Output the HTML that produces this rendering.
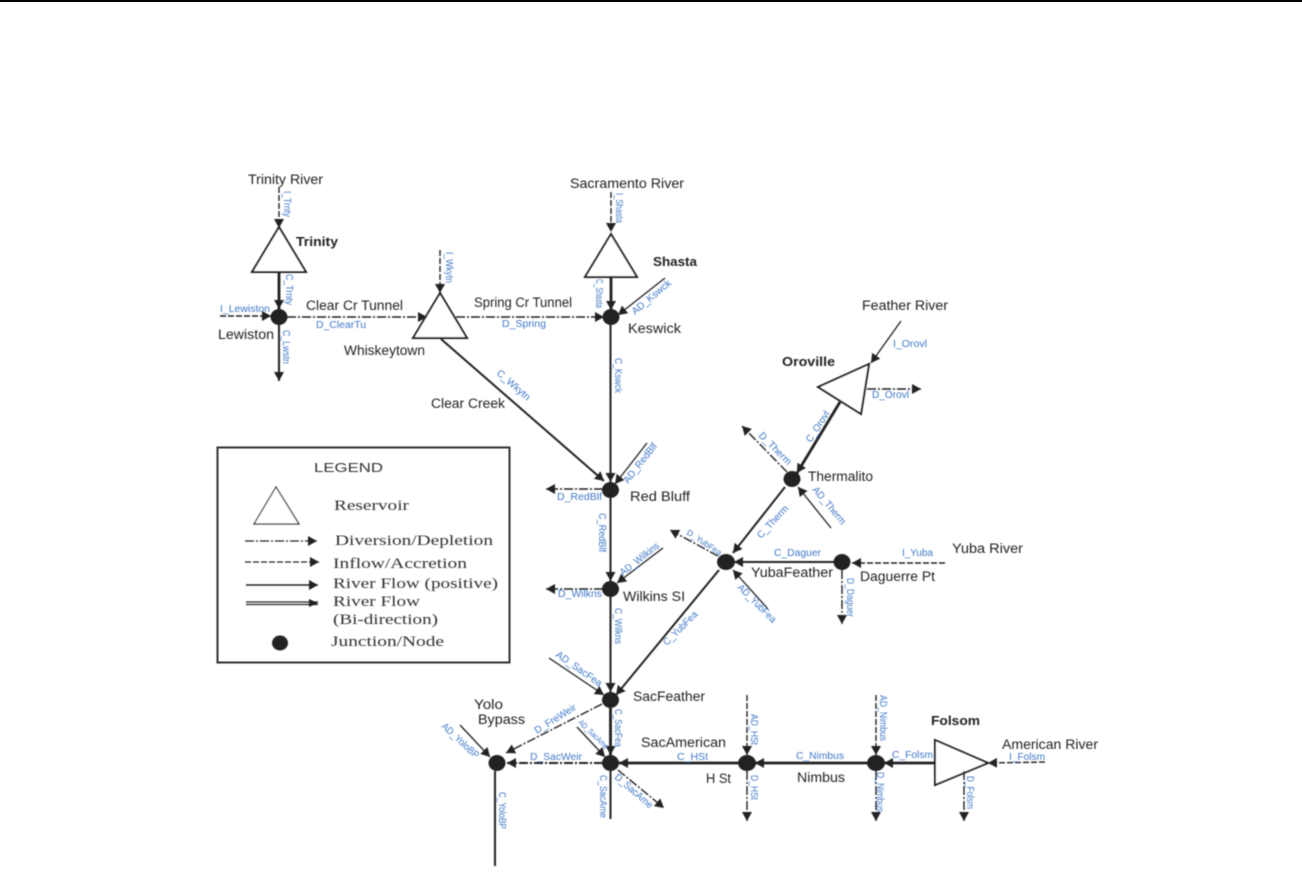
<!DOCTYPE html>
<html><head><meta charset="utf-8"><title>Sacramento River System Diagram</title>
<style>
html,body{margin:0;padding:0;background:#fff;width:1302px;height:896px;overflow:hidden}
svg{display:block}
text{font-family:"Liberation Sans",sans-serif;fill:#222;font-size:13.5px}
.b{font-weight:bold;font-size:13px}
.l{fill:#3f78c8;font-size:10px}
.s{font-family:"Liberation Serif",serif;font-size:15px;fill:#333}
.r,.rt,.i,.d{fill:none;stroke:#222}
.r{stroke-width:2}
.rt{stroke-width:2.8}
.i{stroke-width:1.4;stroke-dasharray:6 2}
.d{stroke-width:1.4;stroke-dasharray:9 2 2 2}
.t{fill:#fff;stroke:#222;stroke-width:2}
</style></head><body>
<svg width="1302" height="896" viewBox="0 0 1302 896" xmlns="http://www.w3.org/2000/svg">
<defs>
<filter id="bl" x="-5%" y="-5%" width="110%" height="110%"><feGaussianBlur stdDeviation="0.4"/></filter>
<marker id="a" markerUnits="userSpaceOnUse" markerWidth="12" markerHeight="12" refX="9" refY="5" orient="auto"><path d="M0 0L9 5L0 10Z" fill="#222"/></marker>
</defs>
<rect x="0" y="0" width="1302" height="2" fill="#000"/>
<g filter="url(#bl)">
<!-- reservoirs -->
<path class="t" d="M279 227L252 272H306Z"/>
<path class="t" d="M440 293L413 338H467Z"/>
<path class="t" d="M611 234L585 277H637Z"/>
<path class="t" d="M818 387L869 364L861 414Z"/>
<path class="t" d="M935 740L935 785L988 763Z"/>
<!-- inflow -->
<line class="i" x1="279" y1="187" x2="279" y2="228" marker-end="url(#a)"/>
<line class="i" x1="220" y1="316" x2="271" y2="316" marker-end="url(#a)"/>
<line class="i" x1="440" y1="250" x2="440" y2="293" marker-end="url(#a)"/>
<line class="i" x1="611" y1="192" x2="611" y2="232" marker-end="url(#a)"/>
<line class="r" style="stroke-width:1.3" x1="901" y1="321" x2="871" y2="363" marker-end="url(#a)"/>
<line class="i" x1="945" y1="563" x2="852" y2="563" marker-end="url(#a)"/>
<line class="i" x1="1045" y1="762" x2="988" y2="763" marker-end="url(#a)"/>
<line class="i" x1="747" y1="695" x2="747" y2="755" marker-end="url(#a)"/>
<line class="i" x1="876" y1="695" x2="876" y2="755" marker-end="url(#a)"/>
<line class="r" style="stroke-width:1.3" x1="665" y1="278" x2="618" y2="315" marker-end="url(#a)"/>
<line class="r" style="stroke-width:1.3" x1="647" y1="443" x2="615" y2="484" marker-end="url(#a)"/>
<line class="r" style="stroke-width:1.3" x1="663" y1="548" x2="617" y2="583" marker-end="url(#a)"/>
<line class="r" style="stroke-width:1.3" x1="831" y1="528" x2="798" y2="487" marker-end="url(#a)"/>
<line class="r" style="stroke-width:1.3" x1="768" y1="609" x2="733" y2="570" marker-end="url(#a)"/>
<line class="r" style="stroke-width:1.3" x1="549" y1="658" x2="604" y2="695" marker-end="url(#a)"/>
<line class="r" style="stroke-width:1.3" x1="577" y1="727" x2="605" y2="757" marker-end="url(#a)"/>
<line class="r" style="stroke-width:1.3" x1="460" y1="725" x2="490" y2="757" marker-end="url(#a)"/>
<!-- diversions -->
<line class="d" x1="287" y1="317" x2="427" y2="317" marker-end="url(#a)"/>
<line class="d" x1="456" y1="317" x2="604" y2="317" marker-end="url(#a)"/>
<line class="d" x1="867" y1="389" x2="921" y2="389" marker-end="url(#a)"/>
<line class="d" x1="787" y1="472" x2="742" y2="426" marker-end="url(#a)"/>
<line class="d" x1="603" y1="489" x2="546" y2="489" marker-end="url(#a)"/>
<line class="d" x1="603" y1="589" x2="546" y2="589" marker-end="url(#a)"/>
<line class="d" x1="718" y1="556" x2="670" y2="530" marker-end="url(#a)"/>
<line class="d" x1="842" y1="570" x2="842" y2="624" marker-end="url(#a)"/>
<line class="d" x1="602" y1="704" x2="506" y2="753" marker-end="url(#a)"/>
<line class="d" style="stroke-width:2" x1="603" y1="763" x2="507" y2="763" marker-end="url(#a)"/>
<line class="d" x1="618" y1="770" x2="664" y2="808" marker-end="url(#a)"/>
<line class="d" x1="747" y1="771" x2="747" y2="821" marker-end="url(#a)"/>
<line class="d" x1="876" y1="771" x2="876" y2="821" marker-end="url(#a)"/>
<line class="d" x1="964" y1="771" x2="964" y2="821" marker-end="url(#a)"/>
<!-- river flow -->
<line class="rt" x1="279" y1="272" x2="279" y2="309" marker-end="url(#a)"/>
<line class="r" x1="279" y1="325" x2="279" y2="381" marker-end="url(#a)"/>
<line class="rt" x1="611" y1="277" x2="611" y2="310" marker-end="url(#a)"/>
<line class="r" x1="610.5" y1="325" x2="610.5" y2="482" marker-end="url(#a)"/>
<line class="r" x1="441" y1="339" x2="604" y2="481" marker-end="url(#a)"/>
<line class="r" x1="610.5" y1="497" x2="610.5" y2="581" marker-end="url(#a)"/>
<line class="r" x1="610.5" y1="597" x2="610.5" y2="692" marker-end="url(#a)"/>
<line class="rt" x1="840" y1="402" x2="797" y2="473" marker-end="url(#a)"/>
<line class="r" x1="785" y1="487" x2="733" y2="553" marker-end="url(#a)"/>
<line class="r" x1="834" y1="562" x2="734" y2="562" marker-end="url(#a)"/>
<line class="r" x1="719" y1="570" x2="616" y2="695" marker-end="url(#a)"/>
<line class="rt" x1="610.5" y1="708" x2="610.5" y2="755" marker-end="url(#a)"/>
<line class="r" x1="610.5" y1="771" x2="610.5" y2="819"/>
<line class="r" x1="495" y1="771" x2="495" y2="866"/>
<line class="rt" x1="740" y1="763" x2="619" y2="763" marker-end="url(#a)"/>
<line class="rt" x1="868" y1="763" x2="755" y2="763" marker-end="url(#a)"/>
<line class="rt" x1="934" y1="763" x2="884" y2="763" marker-end="url(#a)"/>
<!-- nodes -->
<g fill="#222">
<ellipse cx="279" cy="317" rx="8.5" ry="8"/><ellipse cx="611" cy="317" rx="8.5" ry="8"/>
<ellipse cx="610.5" cy="490" rx="8.5" ry="8"/><ellipse cx="610.5" cy="589" rx="8.5" ry="8"/>
<ellipse cx="792" cy="479" rx="8.5" ry="8"/><ellipse cx="726" cy="562" rx="9" ry="8"/>
<ellipse cx="842" cy="562" rx="8.5" ry="8"/><ellipse cx="610.5" cy="700" rx="8.5" ry="8"/>
<ellipse cx="610.5" cy="763" rx="8.5" ry="8"/><ellipse cx="497" cy="763" rx="8.5" ry="8"/>
<ellipse cx="747" cy="763" rx="9" ry="8"/><ellipse cx="876" cy="763" rx="9" ry="8"/>
</g>
<!-- names -->
<text lengthAdjust="spacingAndGlyphs" x="248" y="184" textLength="75">Trinity River</text>
<text lengthAdjust="spacingAndGlyphs" class="b" x="296" y="246" textLength="42">Trinity</text>
<text lengthAdjust="spacingAndGlyphs" x="306" y="310" textLength="97">Clear Cr Tunnel</text>
<text lengthAdjust="spacingAndGlyphs" x="218" y="339" textLength="56">Lewiston</text>
<text lengthAdjust="spacingAndGlyphs" x="344" y="355" textLength="81">Whiskeytown</text>
<text lengthAdjust="spacingAndGlyphs" x="474" y="307" textLength="98">Spring Cr Tunnel</text>
<text lengthAdjust="spacingAndGlyphs" x="431" y="408" textLength="74">Clear Creek</text>
<text lengthAdjust="spacingAndGlyphs" x="570" y="188" textLength="114">Sacramento River</text>
<text lengthAdjust="spacingAndGlyphs" class="b" x="653" y="266" textLength="44">Shasta</text>
<text lengthAdjust="spacingAndGlyphs" x="628" y="333" textLength="53">Keswick</text>
<text lengthAdjust="spacingAndGlyphs" x="862" y="310" textLength="86">Feather River</text>
<text lengthAdjust="spacingAndGlyphs" class="b" x="782" y="366" textLength="53">Oroville</text>
<text lengthAdjust="spacingAndGlyphs" x="808" y="481" textLength="65">Thermalito</text>
<text lengthAdjust="spacingAndGlyphs" x="630" y="501" textLength="60">Red Bluff</text>
<text lengthAdjust="spacingAndGlyphs" x="623" y="601" textLength="62">Wilkins SI</text>
<text lengthAdjust="spacingAndGlyphs" x="751" y="577" textLength="82">YubaFeather</text>
<text lengthAdjust="spacingAndGlyphs" x="860" y="581" textLength="75">Daguerre Pt</text>
<text lengthAdjust="spacingAndGlyphs" x="952" y="553" textLength="71">Yuba River</text>
<text lengthAdjust="spacingAndGlyphs" x="633" y="701" textLength="72">SacFeather</text>
<text lengthAdjust="spacingAndGlyphs" x="474" y="709" textLength="29">Yolo</text>
<text lengthAdjust="spacingAndGlyphs" x="478" y="724" textLength="47">Bypass</text>
<text lengthAdjust="spacingAndGlyphs" x="641" y="747" textLength="85">SacAmerican</text>
<text lengthAdjust="spacingAndGlyphs" x="706" y="783" textLength="25">H St</text>
<text lengthAdjust="spacingAndGlyphs" x="797" y="782" textLength="48">Nimbus</text>
<text lengthAdjust="spacingAndGlyphs" class="b" x="931" y="725" textLength="49">Folsom</text>
<text lengthAdjust="spacingAndGlyphs" x="1002" y="749" textLength="96">American River</text>
<!-- horizontal labels -->
<text lengthAdjust="spacingAndGlyphs" class="l" x="220" y="312" textLength="50">I_Lewiston</text>
<text lengthAdjust="spacingAndGlyphs" class="l" x="316" y="328" textLength="50">D_ClearTu</text>
<text lengthAdjust="spacingAndGlyphs" class="l" x="502" y="327" textLength="44">D_Spring</text>
<text lengthAdjust="spacingAndGlyphs" class="l" x="893" y="347" textLength="34">I_Orovl</text>
<text lengthAdjust="spacingAndGlyphs" class="l" x="872" y="398" textLength="37">D_Orovl</text>
<text lengthAdjust="spacingAndGlyphs" class="l" x="557" y="500" textLength="45">D_RedBlf</text>
<text lengthAdjust="spacingAndGlyphs" class="l" x="558" y="597" textLength="44">D_Wilkns</text>
<text lengthAdjust="spacingAndGlyphs" class="l" x="774" y="556" textLength="47">C_Daguer</text>
<text lengthAdjust="spacingAndGlyphs" class="l" x="902" y="556" textLength="31">I_Yuba</text>
<text lengthAdjust="spacingAndGlyphs" class="l" x="530" y="760" textLength="52">D_SacWeir</text>
<text lengthAdjust="spacingAndGlyphs" class="l" x="677" y="760" textLength="31">C_HSt</text>
<text lengthAdjust="spacingAndGlyphs" class="l" x="796" y="759" textLength="48">C_Nimbus</text>
<text lengthAdjust="spacingAndGlyphs" class="l" x="892" y="758" textLength="41">C_Folsm</text>
<text lengthAdjust="spacingAndGlyphs" class="l" x="1009" y="760" textLength="36">I_Folsm</text>
<!-- vertical labels -->
<text lengthAdjust="spacingAndGlyphs" class="l" transform="translate(284,191) rotate(90)" textLength="26">I_Trnty</text>
<text lengthAdjust="spacingAndGlyphs" class="l" transform="translate(286,274) rotate(90)" textLength="31">C_Trnty</text>
<text lengthAdjust="spacingAndGlyphs" class="l" transform="translate(283,330) rotate(90)" textLength="34">C_Lwstn</text>
<text lengthAdjust="spacingAndGlyphs" class="l" transform="translate(446,252) rotate(90)" textLength="31">I_Wkytn</text>
<text lengthAdjust="spacingAndGlyphs" class="l" transform="translate(616,193) rotate(90)" textLength="30">I_Shasta</text>
<text lengthAdjust="spacingAndGlyphs" class="l" transform="translate(596,279) rotate(90)" textLength="29">C_Shasta</text>
<text lengthAdjust="spacingAndGlyphs" class="l" transform="translate(615,358) rotate(90)" textLength="35">C_Kswck</text>
<text lengthAdjust="spacingAndGlyphs" class="l" transform="translate(599,513) rotate(90)" textLength="39">C_RedBlf</text>
<text lengthAdjust="spacingAndGlyphs" class="l" transform="translate(615,608) rotate(90)" textLength="36">C_Wilkns</text>
<text lengthAdjust="spacingAndGlyphs" class="l" transform="translate(847,578) rotate(90)" textLength="39">D_Daguer</text>
<text lengthAdjust="spacingAndGlyphs" class="l" transform="translate(615,709) rotate(90)" textLength="38">C_SacFea</text>
<text lengthAdjust="spacingAndGlyphs" class="l" transform="translate(600,775) rotate(90)" textLength="43">C_SacAme</text>
<text lengthAdjust="spacingAndGlyphs" class="l" transform="translate(499,792) rotate(90)" textLength="37">C_YoloBP</text>
<text lengthAdjust="spacingAndGlyphs" class="l" transform="translate(751,714) rotate(90)" textLength="31">AD_HSt</text>
<text lengthAdjust="spacingAndGlyphs" class="l" transform="translate(751,775) rotate(90)" textLength="25">D_HSt</text>
<text lengthAdjust="spacingAndGlyphs" class="l" transform="translate(880,695) rotate(90)" textLength="46">AD_Nimbus</text>
<text lengthAdjust="spacingAndGlyphs" class="l" transform="translate(877,772) rotate(90)" textLength="40">D_Nimbus</text>
<text lengthAdjust="spacingAndGlyphs" class="l" transform="translate(967,776) rotate(90)" textLength="33">D_Folsm</text>
<!-- diagonal labels -->
<text lengthAdjust="spacingAndGlyphs" class="l" transform="translate(496,374) rotate(41)" textLength="41">C_Wkytn</text>
<text lengthAdjust="spacingAndGlyphs" class="l" transform="translate(635,315) rotate(-40)" textLength="48">AD_Kswck</text>
<text lengthAdjust="spacingAndGlyphs" class="l" transform="translate(811,443) rotate(-57)" textLength="35">C_Orovl</text>
<text lengthAdjust="spacingAndGlyphs" class="l" transform="translate(758,436) rotate(45)" textLength="42">D_Therm</text>
<text lengthAdjust="spacingAndGlyphs" class="l" transform="translate(628,484) rotate(-52)" textLength="48">AD_RedBlf</text>
<text lengthAdjust="spacingAndGlyphs" class="l" transform="translate(623,576) rotate(-38)" textLength="47">AD_Wilkins</text>
<text lengthAdjust="spacingAndGlyphs" class="l" transform="translate(761,539) rotate(-47)" textLength="41">C_Therm</text>
<text lengthAdjust="spacingAndGlyphs" class="l" transform="translate(812,490) rotate(50)" textLength="46">AD_Therm</text>
<text lengthAdjust="spacingAndGlyphs" class="l" style="font-size:8.5px" transform="translate(686,534) rotate(33)" textLength="40">D_YubFea</text>
<text lengthAdjust="spacingAndGlyphs" class="l" transform="translate(737,588) rotate(45)" textLength="50">AD_YubFea</text>
<text lengthAdjust="spacingAndGlyphs" class="l" transform="translate(667,646) rotate(-45)" textLength="44">C_YubFea</text>
<text lengthAdjust="spacingAndGlyphs" class="l" transform="translate(555,656) rotate(35)" textLength="54">AD_SacFea</text>
<text lengthAdjust="spacingAndGlyphs" class="l" transform="translate(537,734) rotate(-32)" textLength="47">D_FreWeir</text>
<text lengthAdjust="spacingAndGlyphs" class="l" style="font-size:8px" transform="translate(578,723) rotate(44)" textLength="38">AD_SacAme</text>
<text lengthAdjust="spacingAndGlyphs" class="l" transform="translate(614,778) rotate(41)" textLength="47">D_SacAme</text>
<text lengthAdjust="spacingAndGlyphs" class="l" transform="translate(441,727) rotate(43)" textLength="47">AD_YoloBP</text>
<!-- legend -->
<rect x="217.5" y="447.5" width="292" height="215" fill="none" stroke="#333" stroke-width="2"/>
<text lengthAdjust="spacingAndGlyphs" x="314" y="472" textLength="69" style="font-size:12.5px;fill:#333">LEGEND</text>
<path d="M276 487L254 524H299Z" fill="#fff" stroke="#333" stroke-width="1.2"/>
<line class="d" style="stroke-width:1.2" x1="245" y1="541" x2="317" y2="541" marker-end="url(#a)"/>
<line class="i" style="stroke-width:1.2" x1="245" y1="562" x2="319" y2="562" marker-end="url(#a)"/>
<line class="r" style="stroke-width:1.4" x1="246" y1="585" x2="318" y2="585" marker-end="url(#a)"/>
<line class="r" style="stroke-width:1.2" x1="246" y1="602" x2="318" y2="602"/>
<line class="r" style="stroke-width:1.2" x1="246" y1="604.5" x2="318" y2="604.5"/>
<path d="M309 599L318 603L309 607Z" fill="#222"/>
<ellipse cx="280" cy="643" rx="8" ry="7.5" fill="#222"/>
<text lengthAdjust="spacingAndGlyphs" class="s" x="334" y="510" textLength="75">Reservoir</text>
<text lengthAdjust="spacingAndGlyphs" class="s" x="335" y="545" textLength="158">Diversion/Depletion</text>
<text lengthAdjust="spacingAndGlyphs" class="s" x="333" y="568" textLength="134">Inflow/Accretion</text>
<text lengthAdjust="spacingAndGlyphs" class="s" x="333" y="588" textLength="165">River Flow (positive)</text>
<text lengthAdjust="spacingAndGlyphs" class="s" x="333" y="606" textLength="87">River Flow</text>
<text lengthAdjust="spacingAndGlyphs" class="s" x="333" y="624" textLength="105">(Bi-direction)</text>
<text lengthAdjust="spacingAndGlyphs" class="s" x="331" y="646" textLength="113">Junction/Node</text>
</g>
</svg>
</body></html>
